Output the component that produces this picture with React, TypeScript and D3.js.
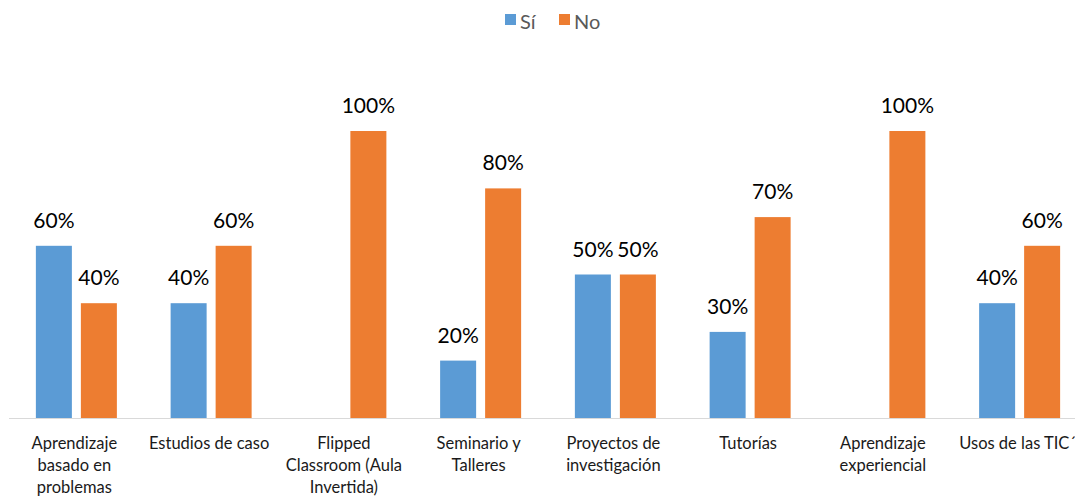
import React, { useRef, useEffect } from 'react';
import * as d3 from 'd3';

const categories = [
    'Aprendizaje basado en problemas',
    'Estudios de caso',
    'Flipped Classroom (Aula Invertida)',
    'Seminario y Talleres',
    'Proyectos de investigación',
    'Tutorías',
    'Aprendizaje experiencial',
    'Usos de las TIC´',
];

// tick labels as Excel wraps them
const tickLines = [
    ['Aprendizaje', 'basado en', 'problemas'],
    ['Estudios de caso'],
    ['Flipped', 'Classroom (Aula', 'Invertida)'],
    ['Seminario y', 'Talleres'],
    ['Proyectos de', 'investigación'],
    ['Tutorías'],
    ['Aprendizaje', 'experiencial'],
    ['Usos de las TIC´'],
];

const siValues = [0.6, 0.4, 0, 0.2, 0.5, 0.3, 0, 0.4];
const noValues = [0.4, 0.6, 1.0, 0.8, 0.5, 0.7, 1.0, 0.6];

const seriesNames = ['Sí', 'No'];
const colors = ['#5b9bd5', '#ed7d31'];

const App: React.FC = () => {
    const svgRef = useRef<SVGSVGElement | null>(null);

    useEffect(() => {
        const width = 1075;
        const height = 497;
        const font = 'Lato, "Open Sans", sans-serif';

        const svg = d3.select(svgRef.current)
            .attr('width', width)
            .attr('height', height);
        svg.selectAll('*').remove();

        const x = d3.scaleBand<string>()
            .domain(categories)
            .range([9, 9 + 8 * 134.75])
            .paddingInner(0)
            .paddingOuter(0);

        const inner = d3.scaleBand<string>()
            .domain(seriesNames)
            .range([0, 81])
            .paddingInner(0.2);

        const y = d3.scaleLinear()
            .domain([0, 1])
            .range([418, 131]);

        const fmt = d3.format('.0%');

        // baseline
        svg.append('line')
            .attr('x1', 9)
            .attr('x2', width)
            .attr('y1', y(0) + 0.5)
            .attr('y2', y(0) + 0.5)
            .attr('stroke', '#d9d9d9')
            .attr('stroke-width', 1);

        const series = [siValues, noValues];

        series.forEach((vals, si) => {
            const g = svg.append('g');
            const rows = categories.map((c, i) => ({ c, v: vals[i] }));
            const xPos = (c: string) => (x(c) as number) + x.bandwidth() / 2 - 40.5 + (inner(seriesNames[si]) as number);

            g.selectAll('rect')
                .data(rows.filter(d => d.v > 0))
                .enter().append('rect')
                .attr('x', d => xPos(d.c))
                .attr('y', d => y(d.v))
                .attr('width', inner.bandwidth())
                .attr('height', d => y(0) - y(d.v))
                .attr('fill', colors[si]);

            g.selectAll('text')
                .data(rows.filter(d => d.v > 0))
                .enter().append('text')
                .attr('x', d => xPos(d.c) + inner.bandwidth() / 2)
                .attr('y', d => y(d.v) - 18)
                .attr('text-anchor', 'middle')
                .style('font-family', font)
                .style('font-size', '21px')
                .style('fill', '#000')
                .text(d => fmt(d.v));
        });

        // category labels
        const ticks = svg.append('g');
        categories.forEach((c, i) => {
            const cx = (x(c) as number) + x.bandwidth() / 2 - 2;
            const t = ticks.append('text')
                .attr('x', cx)
                .attr('y', 449)
                .attr('text-anchor', 'middle')
                .style('font-family', font)
                .style('font-size', '16.5px')
                .style('fill', '#1a1a1a');
            tickLines[i].forEach((line, j) => {
                t.append('tspan')
                    .attr('x', cx)
                    .attr('dy', j === 0 ? 0 : 22)
                    .text(line);
            });
        });

        // legend
        const legendX = [505, 559];
        seriesNames.forEach((name, i) => {
            svg.append('rect')
                .attr('x', legendX[i])
                .attr('y', 14)
                .attr('width', 11)
                .attr('height', 11)
                .attr('fill', colors[i]);
            svg.append('text')
                .attr('x', legendX[i] + 15)
                .attr('y', 29)
                .style('font-family', font)
                .style('font-size', '20px')
                .style('fill', '#595959')
                .text(name);
        });
    }, []);

    return (
        <svg ref={svgRef} style={{ position: 'absolute', left: 0, top: 0 }}></svg>
    );
};

export default App;
